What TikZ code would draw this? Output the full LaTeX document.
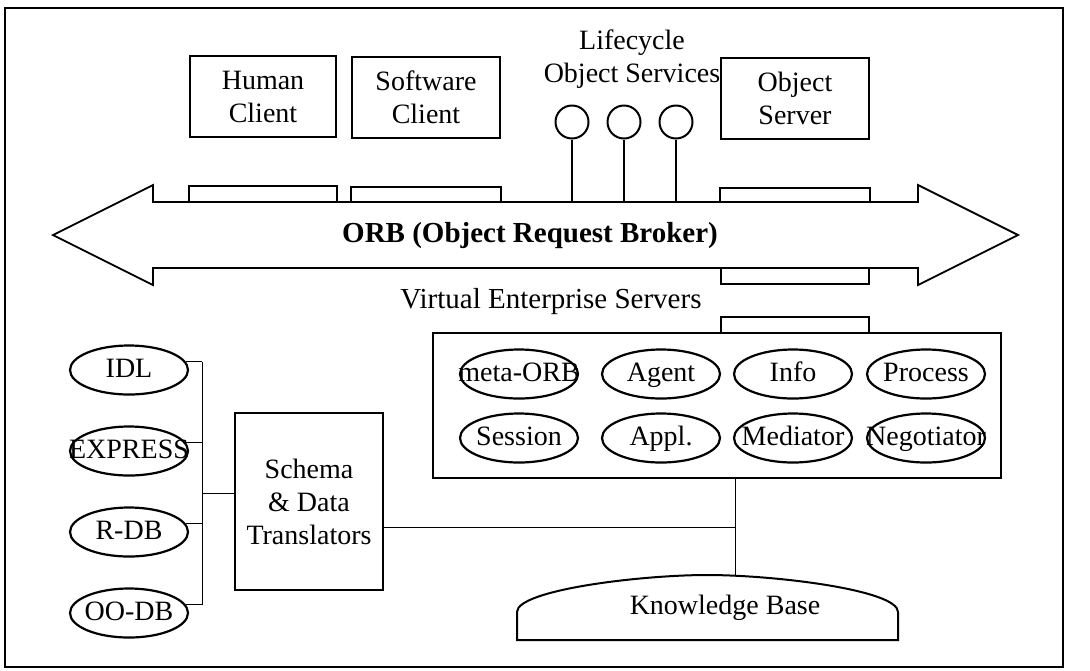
\documentclass[tikz,border=0pt]{standalone}
\usepackage{fontspec}
\setmainfont{Liberation Serif}
\usetikzlibrary{shapes.geometric}
\begin{document}
\begin{tikzpicture}[x=0.5pt,y=-0.5pt,
  every node/.style={font=\fontsize{14}{16.5}\selectfont},
  boxn/.style={draw, line width=0.8pt, align=center, inner sep=0pt},
  ell/.style={draw, ellipse, line width=1.1pt, minimum width=59pt, minimum height=24.5pt, inner sep=0pt},
  lbl/.style={text height=9.5pt, text depth=2.5pt, inner sep=0pt},
  circ/.style={draw, circle, line width=1pt, minimum size=16.5pt, inner sep=0pt},
  stubline/.style={line width=0.8pt},
  thinline/.style={line width=0.5pt},
  stemline/.style={line width=1pt},
  frameline/.style={line width=1pt}]
\useasboundingbox (0,0) rectangle (1090,670);
% outer frame
\draw[frameline] (5,8) rectangle (1063,667);

% top boxes
\node[boxn, minimum width=73pt, minimum height=40.5pt] (human) at (263,96.5) {Human\\Client};
\node[boxn, minimum width=74pt, minimum height=40.5pt] (soft) at (426,97.5) {Software\\Client};
\node[boxn, minimum width=74pt, minimum height=40.5pt] (oserv) at (795,98.5) {Object\\Server};
\node[align=center] (lc) at (632,59) {Lifecycle\\Object Services};

% circles
\node[circ] (c1) at (572,122) {};
\node[circ] (c2) at (624,122) {};
\node[circ] (c3) at (676,122) {};

% ORB arrow
\draw[line width=0.9pt] (53,235) -- (153,185) -- (153,202) -- (918,202) -- (918,185)
  -- (1018,235) -- (918,285) -- (918,268) -- (153,268) -- (153,285) -- cycle;
\coordinate (orbtop) at (0,202);
\node[font=\bfseries\fontsize{14.5}{17}\selectfont] (orb) at (530,236) {ORB (Object Request Broker)};

% stubs on the bus
\draw[stubline] (human.south west |- orbtop) |- (human.east |- 0,186) -- (human.south east |- orbtop);
\draw[stubline] (soft.south west |- orbtop) |- (soft.east |- 0,187) -- (soft.south east |- orbtop);
\draw[stubline] (oserv.south west |- orbtop) |- (oserv.east |- 0,188) -- (oserv.south east |- orbtop);
\draw[stubline] (721,268) |- (869,284) -- (869,268);

% stems
\draw[stemline] (c1.south) -- (c1.south |- orbtop);
\draw[stemline] (c2.south) -- (c2.south |- orbtop);
\draw[stemline] (c3.south) -- (c3.south |- orbtop);

% Virtual Enterprise Servers
\node[font=\fontsize{14.5}{17}\selectfont] (vestext) at (551,302) {Virtual Enterprise Servers};
\node[draw, line width=1pt, minimum width=284pt, minimum height=72.5pt, inner sep=0pt] (ves) at (717,405.5) {};
\draw[stubline] (721,333) |- (869,317) -- (869,333);

\node[ell, label={[lbl]center:meta-ORB}] (meta) at (519,374) {};
\node[ell, label={[lbl]center:Agent}] (agent) at (661,374) {};
\node[ell, label={[lbl]center:Info}] (info) at (793,374) {};
\node[ell, label={[lbl]center:Process}] (proc) at (926,374) {};
\node[ell, label={[lbl]center:Session}] (sess) at (519,438) {};
\node[ell, label={[lbl]center:Appl.}] (appl) at (661,438) {};
\node[ell, label={[lbl]center:Mediator}] (med) at (793,438) {};
\node[ell, label={[lbl]center:Negotiator}] (nego) at (926,438) {};

% left ellipses
\node[ell, label={[lbl]center:IDL}] (idl) at (129,370) {};
\node[ell, label={[lbl]center:EXPRESS}] (expr) at (129,451) {};
\node[ell, label={[lbl]center:R-DB}] (rdb) at (129,532) {};
\node[ell, label={[lbl]center:OO-DB}] (oodb) at (129,613) {};

\coordinate (bus) at (202,0);
\draw[thinline] (idl.8) -- (bus |- idl.8);
\draw[thinline] (expr.8) -- (bus |- expr.8);
\draw[thinline] (rdb.8) -- (bus |- rdb.8);
\draw[thinline] (oodb.8) -- (bus |- oodb.8);
\draw[thinline] (bus |- idl.8) -- (bus |- oodb.8);

% schema box
\node[boxn, line width=0.7pt, minimum width=74pt, minimum height=88.5pt] (schema) at (309,501.5) {Schema\\\& Data\\Translators};
\coordinate (busmid) at (202,493);
\draw[thinline] (busmid) -- (busmid -| schema.west);

% knowledge base
\draw[line width=1pt] (517,640) -- (517,612) .. controls (517,590) and (640,575) .. (707,575)
  .. controls (775,575) and (898,590) .. (898,612) -- (898,640) -- cycle;
\coordinate (kbtop) at (735,576);
\node (kb) at (725,608) {Knowledge Base};

\coordinate (j) at (735,527);
\draw[thinline] (schema.east |- j) -- (j);
\draw[thinline] (ves.south -| j) -- (kbtop);
\end{tikzpicture}
\end{document}
